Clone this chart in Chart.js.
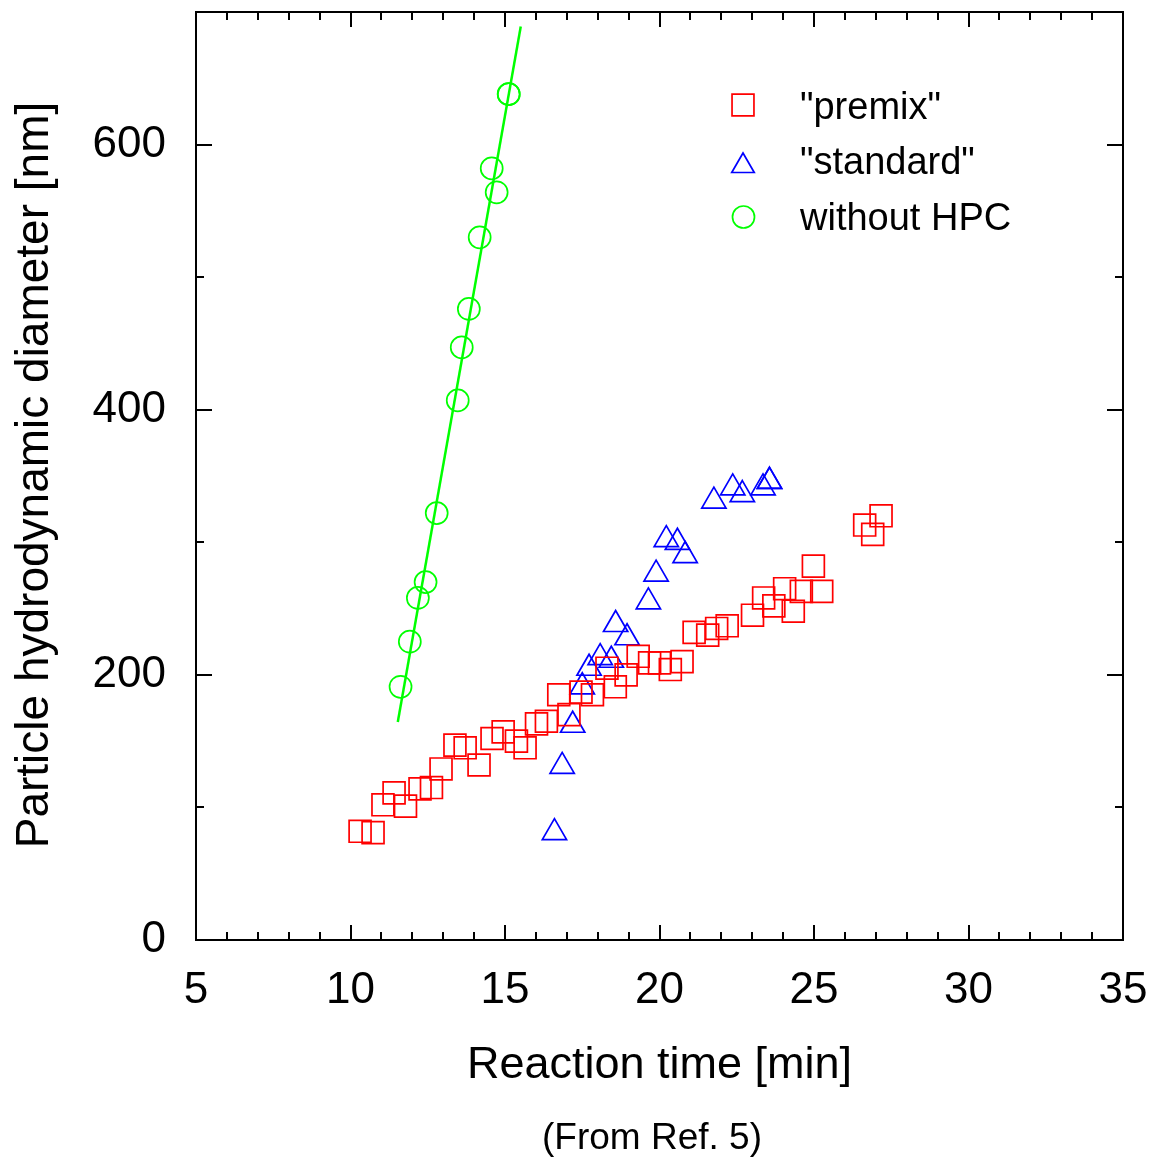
<!DOCTYPE html>
<html lang="en">
<head>
<meta charset="UTF-8">
<title>Particle hydrodynamic diameter vs reaction time</title>
<script src="https://cdn.jsdelivr.net/npm/chart.js@4"></script>
<style>
  html, body { margin: 0; padding: 0; background: #fff; }
  canvas { display: block; }
</style>
</head>
<body>
<canvas id="chart" width="1153" height="1159" style="width:1153px;height:1159px"></canvas>
<script>
// "premix" series (red squares)
const premixX = [10.31, 10.73, 11.05, 11.41, 11.78, 12.25, 12.62, 12.93, 13.38, 13.71,
  14.16, 14.58, 14.94, 15.37, 15.65, 16.02, 16.34, 16.74, 17.07, 17.46,
  17.83, 18.30, 18.57, 18.92, 19.31, 19.68, 20.00, 20.35, 20.73, 21.12,
  21.56, 21.85, 22.19, 23.01, 23.37, 23.70, 24.05, 24.33, 24.59, 25.25,
  24.98, 26.64, 27.17, 26.90];
const premixY = [82, 81, 102, 111, 101, 114, 115, 129, 147, 145,
  132, 152, 157, 150, 145, 163, 165, 185, 170, 187,
  185, 205, 191, 200, 214, 209, 209, 204, 210, 232,
  230, 235, 237, 245, 258, 252, 265, 248, 263, 263,
  282, 313, 320, 306];

// "standard" series (blue triangles)
const standardX = [16.60, 16.85, 17.19, 17.50, 17.72, 18.08, 18.44, 18.58, 18.95, 19.64,
  19.89, 20.22, 20.58, 20.83, 21.76, 22.37, 22.68, 23.35, 23.56, 23.56];
const standardY = [81, 131, 162, 191, 205, 213, 211, 238, 228, 255,
  276, 302, 300, 290, 331, 341, 336, 341, 346, 346];

// without HPC (green circles) and its fitted line
const noHpcX = [11.62, 11.92, 12.18, 12.43, 12.79, 13.47, 13.60, 13.83, 14.18, 14.57, 14.73, 15.12, 15.12];
const noHpcY = [191, 225, 258, 270, 322, 407, 447, 476, 530, 582, 564, 638, 638];
const fitX = [11.53, 15.51];
const fitY = [164.5, 689];

const legendLabels = ['"premix"', '"standard"', 'without HPC'];
const xTitle = 'Reaction time [min]';
const yTitle = 'Particle hydrodynamic diameter [nm]';
const note = '(From Ref. 5)';

const FONT = '"Liberation Sans", Arial, Helvetica, sans-serif';
const RED = '#ff0000', BLUE = '#0000ff', GREEN = '#00ff00';

const pts = (xs, ys) => xs.map((x, i) => ({ x, y: ys[i] }));

function marker(ctx, style, radius, color, x, y) {
  ctx.save();
  ctx.strokeStyle = color;
  ctx.fillStyle = 'rgba(0,0,0,0)';
  ctx.lineWidth = 1.7;
  Chart.helpers.drawPoint(ctx, { pointStyle: style, radius, rotation: 0, borderWidth: 1.7 }, x, y);
  ctx.restore();
}

// Frame, inward ticks on all sides, titles and legend
const decorations = {
  id: 'decorations',
  afterDraw(chart) {
    const { ctx, chartArea: a, scales: { x, y } } = chart;
    ctx.save();
    ctx.strokeStyle = '#000';
    ctx.lineWidth = 2;
    ctx.strokeRect(a.left, a.top, a.right - a.left, a.bottom - a.top);

    ctx.beginPath();
    x.ticks.forEach(t => {
      const v = Math.round(t.value);
      const px = Math.round(x.getPixelForValue(v));
      const len = v % 5 === 0 ? 15 : 8;
      ctx.moveTo(px, a.bottom); ctx.lineTo(px, a.bottom - len);
      ctx.moveTo(px, a.top); ctx.lineTo(px, a.top + len);
    });
    y.ticks.forEach(t => {
      const v = Math.round(t.value);
      const py = Math.round(y.getPixelForValue(v));
      const len = v % 200 === 0 ? 16 : 8;
      ctx.moveTo(a.left, py); ctx.lineTo(a.left + len, py);
      ctx.moveTo(a.right, py); ctx.lineTo(a.right - len, py);
    });
    ctx.stroke();

    // axis titles
    ctx.fillStyle = '#000';
    ctx.textBaseline = 'alphabetic';
    ctx.textAlign = 'center';
    ctx.font = '45px ' + FONT;
    ctx.fillText(xTitle, (a.left + a.right) / 2, 1078);
    ctx.font = '37px ' + FONT;
    ctx.fillText(note, 652, 1149);

    ctx.save();
    ctx.translate(48, 475);
    ctx.rotate(-Math.PI / 2);
    ctx.font = '46px ' + FONT;
    ctx.fillText(yTitle, 0, 0);
    ctx.restore();

    // legend
    marker(ctx, 'rect', 15.5, RED, 743, 105);
    marker(ctx, 'triangle', 13, BLUE, 743, 166);
    marker(ctx, 'circle', 11, GREEN, 743.5, 217);
    ctx.textAlign = 'left';
    ctx.font = '38px ' + FONT;
    ctx.fillText(legendLabels[0], 800, 119);
    ctx.fillText(legendLabels[1], 800, 174);
    ctx.fillText(legendLabels[2], 800, 230);
    ctx.restore();
  }
};

new Chart(document.getElementById('chart'), {
  type: 'scatter',
  data: {
    datasets: [
      { label: legendLabels[0], data: pts(premixX, premixY), pointStyle: 'rect', pointRadius: 15.5,
        borderColor: RED, backgroundColor: 'rgba(0,0,0,0)', borderWidth: 1.7, showLine: false },
      { label: legendLabels[1], data: pts(standardX, standardY), pointStyle: 'triangle', pointRadius: 14,
        borderColor: BLUE, backgroundColor: 'rgba(0,0,0,0)', borderWidth: 1.7, showLine: false },
      { label: legendLabels[2], data: pts(noHpcX, noHpcY), pointStyle: 'circle', pointRadius: 11,
        borderColor: GREEN, backgroundColor: 'rgba(0,0,0,0)', borderWidth: 1.7, showLine: false },
      { label: 'fit', data: pts(fitX, fitY), showLine: true, pointRadius: 0,
        borderColor: GREEN, borderWidth: 2.5, fill: false }
    ]
  },
  options: {
    responsive: false,
    animation: false,
    events: [],
    layout: { autoPadding: false, padding: { left: 0, top: 12, right: 30, bottom: 0 } },
    plugins: { legend: { display: false }, tooltip: { enabled: false } },
    scales: {
      x: {
        type: 'linear', min: 5, max: 35,
        grid: { display: false, drawTicks: false },
        border: { display: false },
        afterFit: s => { s.height = 219; s.paddingLeft = 0; s.paddingRight = 0; },
        ticks: {
          stepSize: 1, autoSkip: false, maxRotation: 0, padding: 24,
          color: '#000', font: { family: FONT, size: 44 },
          callback: v => (Math.round(v) % 5 === 0 ? String(Math.round(v)) : '')
        }
      },
      y: {
        type: 'linear', min: 0, max: 700,
        grid: { display: false, drawTicks: false },
        border: { display: false },
        afterFit: s => { s.width = 196; s.paddingTop = 0; s.paddingBottom = 0; },
        ticks: {
          stepSize: 100, autoSkip: false, padding: 30,
          color: '#000', font: { family: FONT, size: 44 },
          callback: v => (Math.round(v) % 200 === 0 ? String(Math.round(v)) : '')
        }
      }
    }
  },
  plugins: [decorations]
});
</script>
</body>
</html>
